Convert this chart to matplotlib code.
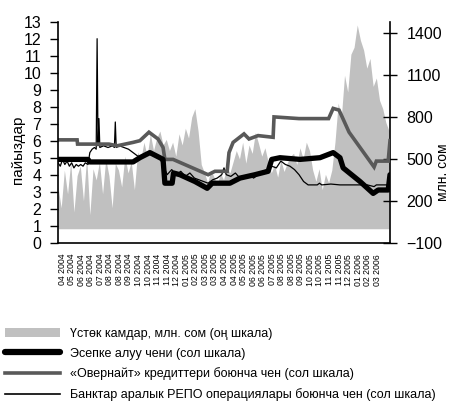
import numpy as np
import matplotlib
matplotlib.use("Agg")
import matplotlib.pyplot as plt
from matplotlib.lines import Line2D
from matplotlib.patches import Patch

plt.rcParams['font.family'] = ['Liberation Sans', 'DejaVu Sans']

# ---- data ----
# tick labels (every ~3 weeks, 04.2004 - 03.2006)
tick_labels = ["04 2004", "05 2004", "06 2004", "06 2004", "07 2004", "08 2004", "08 2004",
               "09 2004", "10 2004", "10 2004", "11 2004", "11 2004", "12 2004",
               "01 2005", "02 2005", "03 2005", "03 2005", "04 2005", "04 2005", "05 2005",
               "06 2005", "06 2005", "07 2005", "08 2005", "08 2005", "09 2005", "10 2005",
               "10 2005", "11 2005", "11 2005", "12 2005",
               "01 2006", "02 2006", "03 2006"]

# excess reserves, weekly (mln som, right scale)
reserves = [300, 150, 420, 250, 480, 120, 380, 450, 200, 520, 100, 430, 350, 480,
            250, 500, 380, 150, 470, 420, 300, 520, 400, 480, 280, 550, 500,
            620, 520, 680, 560, 650, 700, 600, 640,
            560, 620, 520, 680, 600, 720, 650, 800, 860, 700,
            460, 400, 330, 420, 370, 310, 400, 350, 440, 400, 480,
            560, 500, 620, 470, 600, 540, 690, 610, 520, 580, 480,
            400, 460, 370, 490, 410, 470, 520,
            540, 460, 580, 500, 620, 560,
            420, 340, 430, 280, 390, 330, 420,
            620, 900, 800, 1100, 980, 1250,
            1300, 1460, 1350, 1280, 1150, 1220,
            1020, 1080, 920, 860, 760, 700]

# discount rate (%), day index from 1 Apr 2004
disc_day = [0, 66, 70, 165, 180, 202, 224, 231, 235, 251, 254, 268, 301, 328, 339, 378,
            400, 433, 462, 470, 488, 532, 576, 605, 620, 627, 664, 693, 704, 726, 730]
disc_val = [4.9, 4.9, 4.75, 4.75, 5.0, 5.3, 5.0, 4.9, 3.5, 3.5, 4.1, 4.0, 3.6, 3.2, 3.5, 3.5,
            3.8, 4.0, 4.2, 4.9, 5.0, 4.9, 5.0, 5.3, 5.0, 4.4, 3.6, 2.9, 3.1, 3.1, 4.0]

# overnight credit rate (%)
over_day = [0, 42, 43, 112, 130, 165, 180, 200, 220, 231, 235, 253, 330, 345, 372, 376, 385,
            409, 420, 440, 473, 475, 530, 595, 605, 618, 640, 695, 700, 726, 730]
over_val = [6.05, 6.05, 5.8, 5.8, 5.7, 5.9, 6.0, 6.5, 6.1, 5.6, 4.9, 4.9, 4.0, 4.2, 4.2, 5.3, 5.9,
            6.4, 6.1, 6.3, 6.2, 7.4, 7.3, 7.3, 7.9, 7.8, 6.5, 4.45, 4.8, 4.8, 6.0]

# interbank repo rate (%)
repo_day = [0, 5, 10, 15, 20, 25, 30, 35, 40, 45, 50, 55, 60, 66, 70, 75, 80, 84, 86, 88, 90, 92,
            100, 110, 120, 124, 126, 128, 135, 145, 155, 165, 175, 185, 200, 215, 225, 232, 240,
            250, 260, 270, 280, 290, 300, 310, 320, 330, 340, 350, 360, 365, 370, 380, 390, 400,
            410, 420, 430, 440, 450, 460, 470, 480, 490, 500, 510, 520, 530, 540, 550, 570, 575,
            580, 600, 620, 640, 660, 680, 695, 700, 730]
repo_val = [4.7, 4.5, 4.9, 4.6, 4.8, 4.5, 4.7, 4.4, 4.6, 4.5, 4.6, 4.5, 4.7, 4.6, 5.3, 5.5, 5.6,
            5.5, 12.0, 5.7, 7.3, 5.6, 5.7, 5.6, 5.7, 5.6, 7.1, 5.6, 5.7, 5.6, 5.5, 5.3, 5.1, 5.0,
            5.2, 5.1, 4.9, 4.5, 4.0, 4.3, 4.0, 4.2, 3.9, 4.1, 3.8, 3.7, 3.6, 3.5, 3.7, 3.8, 4.0,
            4.4, 4.0, 3.9, 4.1, 3.8, 3.9, 4.0, 3.8, 4.0, 4.2, 4.3, 4.5, 4.4, 4.8, 4.6, 4.5, 4.3,
            4.0, 3.6, 3.4, 3.4, 3.5, 3.4, 3.45, 3.4, 3.4, 3.4, 3.4, 3.3, 3.4, 3.4]

legend_labels = ["Үстөк камдар, млн. сом (оң шкала)",
                 "Эсепке алуу чени (сол шкала)",
                 "«Овернайт» кредиттери боюнча чен (сол шкала)",
                 "Банктар аралык РЕПО операциялары боюнча чен (сол шкала)"]

# ---- figure ----
fig = plt.figure(figsize=(4.52, 4.05), dpi=100)
ax = fig.add_axes([58/452, 1 - 242.7/405, 332/452, 221/405])
ax2 = ax.twinx()
ax.set_zorder(ax2.get_zorder() + 1)
ax.patch.set_visible(False)

res_days = np.arange(len(reserves)) * 7
ax2.fill_between(res_days, 0, reserves, color='#c0c0c0', lw=0)

ax.plot(repo_day, repo_val, color='black', lw=0.9)
ax.plot(over_day, over_val, color='#595959', lw=2.6, solid_joinstyle='miter')
ax.plot(disc_day, disc_val, color='black', lw=3.8, solid_capstyle='round')

ax.set_xlim(0, 730)
ax.set_ylim(0, 13)
ax2.set_ylim(-100, 1483)

ax.set_yticks(range(0, 14))
ax2.set_yticks(range(-100, 1401, 300))

tick_pos = 9 + 21 * np.arange(len(tick_labels))
ax.set_xticks(tick_pos)
ax.set_xticklabels(tick_labels, rotation=90, fontsize=6.3)
ax.tick_params(axis='x', length=0, pad=8)
ax.tick_params(axis='y', direction='out', length=6, width=1, labelsize=11.5, pad=6)
ax2.tick_params(axis='y', direction='inout', length=10, width=1, labelsize=11.5, pad=7)

for a in (ax, ax2):
    a.spines['top'].set_visible(False)
ax.spines['right'].set_visible(False)
ax2.spines['left'].set_visible(False)
ax2.spines['bottom'].set_visible(False)
for s in ('left', 'bottom'):
    ax.spines[s].set_linewidth(1.2)
ax2.spines['right'].set_linewidth(1.2)

ax.set_ylabel("пайыздар", fontsize=11)
ax.yaxis.set_label_coords(-0.10, 0.42)
ax2.set_ylabel("млн. сом", fontsize=10)
ax2.yaxis.set_label_coords(1.14, 0.32)

handles = [Patch(facecolor='#c0c0c0', edgecolor='none'),
           Line2D([], [], color='black', lw=4.5, solid_capstyle='round'),
           Line2D([], [], color='#595959', lw=2.6),
           Line2D([], [], color='black', lw=1.2)]
fig.legend(handles, legend_labels, loc='upper left', bbox_to_anchor=(5/452, 1 - 328/405),
           frameon=False, fontsize=9.0, handlelength=4.4, handletextpad=0.8,
           labelspacing=0.62, borderaxespad=0, borderpad=0)

fig.savefig("out.png", dpi=100)
